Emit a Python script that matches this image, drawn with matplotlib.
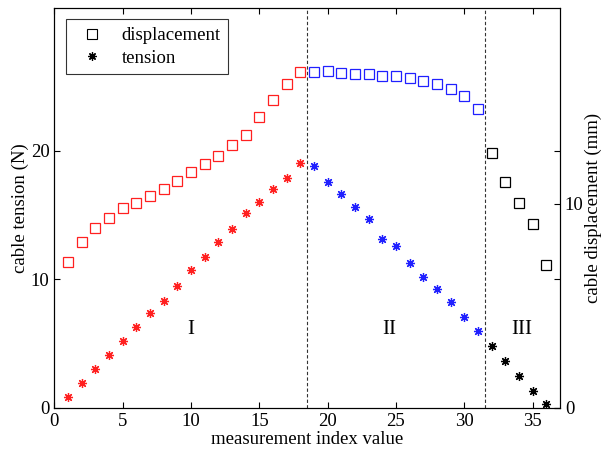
import numpy as np
import matplotlib
matplotlib.use("Agg")
import matplotlib.pyplot as plt

plt.rcParams["font.family"] = ["Liberation Serif", "DejaVu Serif"]
plt.rcParams["font.size"] = 13.5

# ---- data ----
idx_1 = list(range(1, 19))
idx_2 = list(range(19, 32))
idx_3 = list(range(32, 37))

tension_1 = [0.86, 1.93, 3.02, 4.12, 5.21, 6.30, 7.40, 8.34, 9.51, 10.68,
             11.70, 12.87, 13.88, 15.18, 15.99, 17.05, 17.87, 19.06]
tension_2 = [18.80, 17.60, 16.64, 15.60, 14.69, 13.15, 12.60, 11.30, 10.21,
             9.22, 8.23, 7.05, 5.94]
tension_3 = [4.84, 3.67, 2.50, 1.30, 0.31]

disp_1 = [7.14, 8.11, 8.82, 9.33, 9.79, 10.06, 10.41, 10.75, 11.10, 11.56,
          11.96, 12.36, 12.87, 13.40, 14.27, 15.12, 15.86, 16.49]
disp_2 = [16.49, 16.50, 16.42, 16.37, 16.37, 16.26, 16.26, 16.16, 16.04,
          15.86, 15.65, 15.29, 14.67]
disp_3 = [12.48, 11.05, 10.06, 9.03, 6.98]

boundaries = [18.5, 31.5]
region_labels = ["I", "II", "III"]
label_x = [10, 24.5, 34.2]
label_y = 6.1

colors = ["#ff2020", "#2020ff", "black"]

fig = plt.figure(figsize=(6.14, 4.55), dpi=100)
ax1 = fig.add_axes([0.0884, 0.104, 0.8236, 0.878])
ax2 = ax1.twinx()

star = (8, 2, 0)
for x, t, c in zip([idx_1, idx_2, idx_3], [tension_1, tension_2, tension_3], colors):
    ax1.plot(x, t, linestyle="none", marker=star, markersize=6.5, color=c,
             markeredgewidth=0.9)
for x, d, c in zip([idx_1, idx_2, idx_3], [disp_1, disp_2, disp_3], colors):
    ax2.plot(x, d, linestyle="none", marker="s", markersize=7.5,
             markerfacecolor="none", markeredgecolor=c, markeredgewidth=0.9)

for b in boundaries:
    ax1.axvline(b, color="#333333", linestyle=(0, (3, 2)), linewidth=0.8)

for lab, lx in zip(region_labels, label_x):
    ax1.text(lx, label_y, lab, ha="center", va="center", fontsize=15)

ax1.set_xlim(0, 37)
ax1.set_ylim(0, 31.1)
ax2.set_ylim(0, 19.6)

ax1.set_xticks([0, 5, 10, 15, 20, 25, 30, 35])
ax1.set_yticks([0, 10, 20])
ax2.set_yticks([0, 10])

ax1.tick_params(direction="in", top=True, right=True, length=4, labelsize=13.5)
ax2.tick_params(direction="in", length=4, labelsize=13.5)

ax1.set_xlabel("measurement index value", labelpad=1)
ax1.set_ylabel("cable tension (N)", labelpad=1)
ax2.set_ylabel("cable displacement (mm)", labelpad=1)

# legend with black proxies
h1, = ax1.plot([], [], linestyle="none", marker="s", markersize=7,
               markerfacecolor="none", markeredgecolor="black", markeredgewidth=0.8)
h2, = ax1.plot([], [], linestyle="none", marker=star, markersize=6,
               color="black", markeredgewidth=0.9)
leg = ax1.legend([h1, h2], ["displacement", "tension"], loc="upper left",
                 fancybox=False, edgecolor="black", fontsize=13.5,
                 borderaxespad=0.6, handletextpad=0.6, labelspacing=0.3)
leg.get_frame().set_linewidth(0.8)

for a in (ax1, ax2):
    for s in a.spines.values():
        s.set_linewidth(0.8)

fig.savefig("out.png", dpi=100)
